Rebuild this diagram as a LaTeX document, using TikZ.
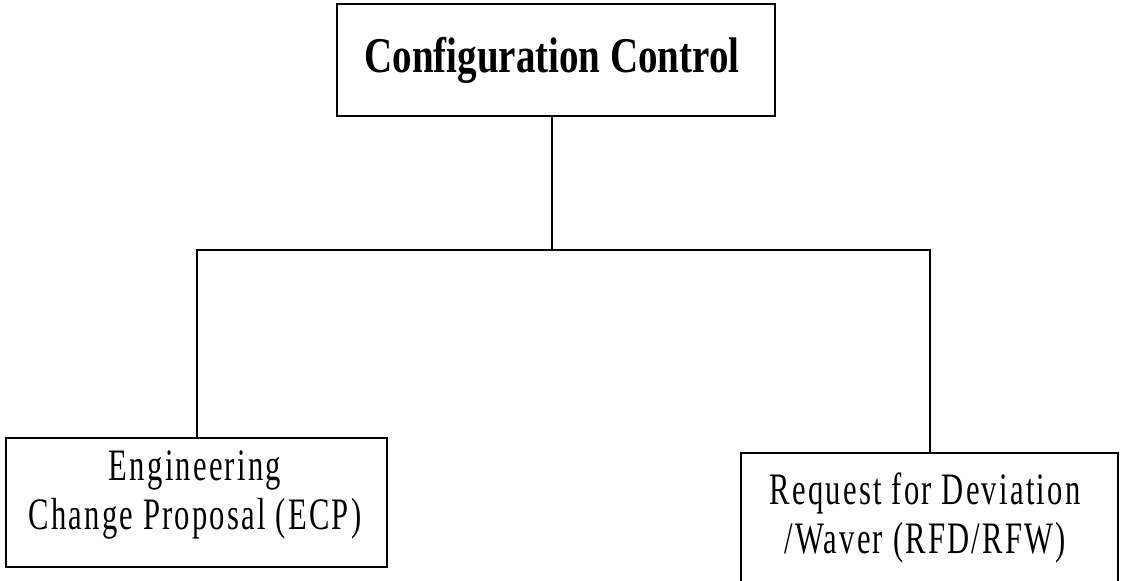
\documentclass[tikz,border=0pt]{standalone}
\usepackage{fontspec}
\setmainfont{Liberation Serif}
\newfontfamily\titlefont[FakeStretch=0.78]{Liberation Serif}
\newfontfamily\bodyfont[FakeStretch=0.68,LetterSpace=5]{Liberation Serif}
\begin{document}
\begin{tikzpicture}[x=1pt,y=-1pt,
  box/.style={draw=black,line width=2pt,fill=white,inner sep=0pt,align=center},
  titletext/.style={font=\titlefont\bfseries\fontsize{50}{56}\selectfont},
  bodytext/.style={font=\bodyfont\fontsize{45}{49}\selectfont},
  link/.style={draw=black,line width=2pt}]
  \useasboundingbox (0,0) rectangle (1122,581);
  \clip (0,0) rectangle (1122,581);

  % top level
  \node[box,titletext,minimum width=438pt,minimum height=112pt] (top) at (556,60) {};
  \node[titletext,inner sep=0pt] (toptext) at (552,60) {Configuration Control};

  % children
  \node[box,minimum width=381pt,minimum height=129pt] (ecp) at (196.5,502.5) {};
  \node[bodytext,align=center,inner sep=0pt] (ecptext) at (195,495) {Engineering\\Change Proposal (ECP)};

  \node[box,minimum width=377pt,minimum height=180pt] (rfd) at (929.5,543) {};
  \node[bodytext,align=center,inner sep=0pt] (rfdtext) at (925,518) {Request for Deviation\\/Waver (RFD/RFW)};

  % tree connectors
  \coordinate (bus) at (552,250);
  \draw[link] (top.south -| bus) -- (bus);
  \draw[link] (bus) -| (ecp.north);
  \draw[link] (bus) -| (rfd.north);
\end{tikzpicture}
\end{document}
